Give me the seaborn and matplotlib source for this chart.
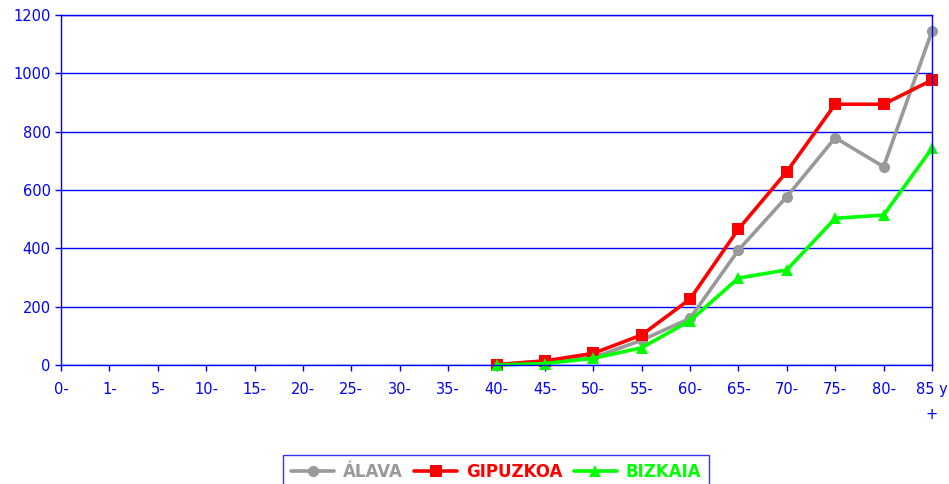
import numpy as np
import pandas as pd
import matplotlib
matplotlib.use("Agg")
import matplotlib.pyplot as plt
import seaborn as sns

# grupos de edad
edades = ["0-", "1-", "5-", "10-", "15-", "20-", "25-", "30-", "35-", "40-",
          "45-", "50-", "55-", "60-", "65-", "70-", "75-", "80-", "85 y\n+"]
nan = np.nan
alava = [nan] * 9 + [2, 14, 25, 85, 160, 394, 577, 779, 680, 1145]
gipuzkoa = [nan] * 9 + [1, 14, 40, 103, 226, 466, 663, 894, 894, 977]
bizkaia = [nan] * 9 + [0, 5, 23, 59, 152, 298, 326, 503, 514, 743]

series = {"ÁLAVA": alava, "GIPUZKOA": gipuzkoa, "BIZKAIA": bizkaia}
colores = {"ÁLAVA": "#999999", "GIPUZKOA": "#ff0000", "BIZKAIA": "#00ff00"}
marcadores = {"ÁLAVA": "o", "GIPUZKOA": "s", "BIZKAIA": "^"}

df = pd.concat([pd.DataFrame({"x": range(len(edades)), "valor": v, "prov": k})
                for k, v in series.items()], ignore_index=True)

sns.set_style("white")
azul = "#0000ff"

fig = plt.figure(figsize=(9.49, 4.84), dpi=100)
ax = fig.add_axes([61 / 949, 1 - 365 / 484, (932 - 61) / 949, 350 / 484])

sns.lineplot(data=df, x="x", y="valor", hue="prov", style="prov",
             palette=colores, markers=marcadores, dashes=False,
             linewidth=2.6, markersize=8, markeredgewidth=0, ax=ax)
for ln in ax.get_lines():
    ln.set_clip_on(False)

ax.set_xlim(0, len(edades) - 1)
ax.set_ylim(0, 1200)
ax.set_yticks(range(0, 1201, 200))
ax.set_xticks(range(len(edades)))
ax.set_xticklabels(edades)
ax.set_xlabel("")
ax.set_ylabel("")
ax.yaxis.grid(True, color=azul, linewidth=1)
for s in ax.spines.values():
    s.set_color(azul)
    s.set_linewidth(1)
ax.tick_params(axis="both", colors=azul, labelcolor=azul, labelsize=10.5,
               direction="out", length=4, width=1, left=True, bottom=True)
ax.tick_params(axis="x", pad=8)
for lbl in ax.get_xticklabels():
    lbl.set_linespacing(1.9)
    lbl.set_verticalalignment("top")

ax.get_legend().remove()
handles, labels = ax.get_legend_handles_labels()
leg = fig.legend(handles, labels, loc="upper center",
                 bbox_to_anchor=(496 / 949, 1 - 447 / 484), ncol=3,
                 frameon=True, fancybox=False, handlelength=2.6,
                 columnspacing=0.7, handletextpad=0.5, borderpad=0.45,
                 prop={"weight": "bold", "size": 12})
leg.get_frame().set_edgecolor(azul)
leg.get_frame().set_linewidth(1)
for txt, k in zip(leg.get_texts(), labels):
    txt.set_color(colores[k])

fig.savefig("out.png", dpi=100)
